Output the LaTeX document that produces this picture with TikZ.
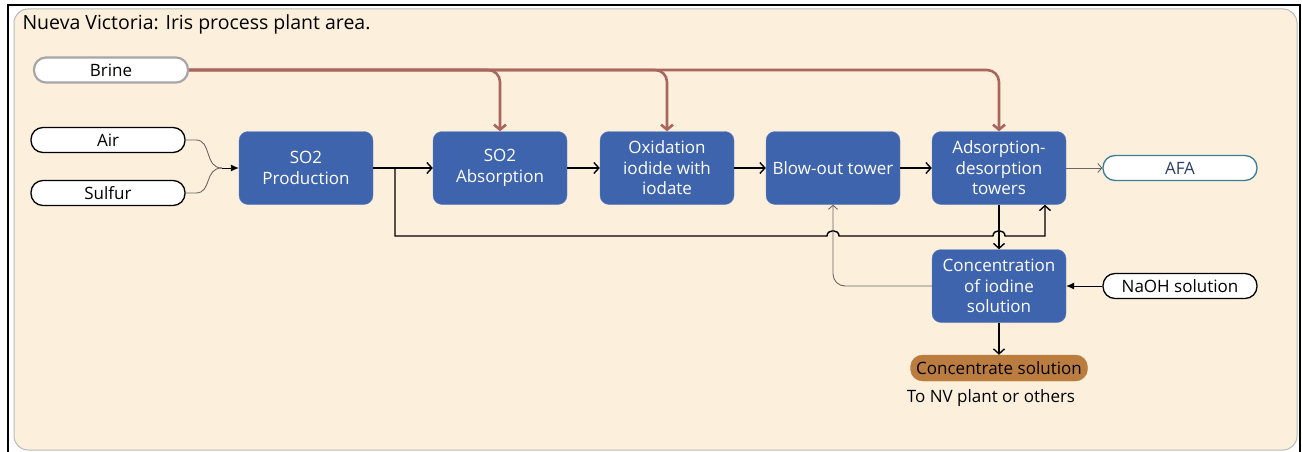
\documentclass[tikz,border=0pt]{standalone}
\usepackage{fontspec}
\setmainfont{Open Sans}
\usetikzlibrary{arrows.meta}

\definecolor{plantbg}{HTML}{FCF0DC}
\definecolor{unitblue}{HTML}{3F64AE}
\definecolor{brinered}{HTML}{A9665F}
\definecolor{brinegrey}{HTML}{A6A6A6}
\definecolor{afaedge}{HTML}{3D7A96}
\definecolor{afatext}{HTML}{2B3E6B}
\definecolor{concfill}{HTML}{BB7D3F}
\definecolor{greyline}{HTML}{6E6660}

\tikzset{
  unit/.style={rectangle, rounded corners=9pt, fill=unitblue, draw=unitblue!80!white,
    text=white, minimum width=134pt, minimum height=73pt, inner sep=2pt,
    align=center, font=\fontsize{17}{20.5}\selectfont},
  feed/.style={rectangle, rounded corners=12pt, draw=black, line width=1.3pt, fill=white,
    minimum width=154pt, minimum height=25pt, inner sep=0pt, font=\fontsize{17}{19}\selectfont},
  product/.style={rectangle, rounded corners=12pt, fill=concfill, draw=concfill,
    minimum width=177pt, minimum height=26pt, inner sep=0pt, font=\fontsize{17}{19}\selectfont},
  flow/.style={line width=1.4pt, -{Straight Barb[length=5pt,width=11pt]}},
  brineflow/.style={brinered, line width=2.6pt, rounded corners=12pt,
    -{Straight Barb[length=5pt,width=12pt]}},
  feedline/.style={greyline, line width=0.9pt},
  feedarrow/.style={line width=0.9pt, -{Latex[length=8pt,width=7pt]}},
  thinflow/.style={greyline, line width=0.9pt, rounded corners=12pt,
    -{Straight Barb[length=4pt,width=9pt]}}
}

\begin{document}
\begin{tikzpicture}[x=1pt, y=-1pt]
  \useasboundingbox (0,0) rectangle (1302,452);

  % plant area frame
  \draw[line width=1.2pt] (8,452) -- (8,5) -- (1300,5) -- (1300,452);
  \draw[fill=plantbg, draw=gray!55, line width=1pt, rounded corners=14pt] (14,9) rectangle (1297,450);
  \node[anchor=west, font=\fontsize{19.5}{22}\selectfont] (title) at (19,24) {Nueva Victoria: Iris process plant area.};

  % feeds
  \node[feed, draw=brinegrey, line width=2.2pt] (brine) at (111,70) {Brine};
  \node[feed] (air) at (108,140) {Air};
  \node[feed] (sulfur) at (108,193) {Sulfur};

  % process units
  \node[unit] (prod) at (306,168) {SO2\\Production};
  \node[unit] (absorb) at (500,168) {SO2\\Absorption};
  \node[unit] (oxid) at (667,168) {Oxidation\\iodide with\\iodate};
  \node[unit] (blowout) at (833,168) {Blow-out tower};
  \node[unit] (adsorb) at (999,168) {Adsorption-\\desorption\\towers};
  \node[unit] (conc) at (999,286) {Concentration\\of iodine\\solution};

  % outputs
  \node[feed, draw=afaedge, text=afatext] (afa) at (1180,168) {AFA};
  \node[feed] (naoh) at (1180,286) {NaOH solution};
  \node[product] (concsol) at (999,368) {Concentrate solution};
  \node[font=\fontsize{17}{19}\selectfont] (dest) at (991,398) {To NV plant or others};

  % brine header
  \draw[brineflow] (brine.east) -| (absorb.north);
  \draw[brineflow] (brine.east) -| (oxid.north);
  \draw[brineflow] (brine.east) -| (adsorb.north);

  % air + sulfur into SO2 production
  \coordinate (mix) at (222,168);
  \draw[feedline] (air.east) -- (196,140) .. controls (212,140) and (204,168) .. (mix);
  \draw[feedline] (sulfur.east) -- (196,193) .. controls (212,193) and (204,168) .. (mix);
  \draw[feedarrow] (mix) -- (prod.west);

  % main line
  \draw[flow] (prod.east) -- (absorb.west);
  \draw[flow] (absorb.east) -- (oxid.west);
  \draw[flow] (oxid.east) -- (blowout.west);
  \draw[flow] (blowout.east) -- (adsorb.west);
  \draw[thinflow] (adsorb.east) -- (afa.west);

  % SO2 bypass to the towers, hopping over the crossings
  \coordinate (tap) at (395,168);
  \coordinate (bypassup) at (1045,236);
  \draw[flow] (tap) -- (395,236) -- (827,236)
    .. controls (827,229) and (839,229) .. (839,236) -- (993,236)
    .. controls (993,229) and (1005,229) .. (1005,236) -- (bypassup)
    -- (bypassup |- adsorb.south);

  % iodine concentration
  \draw[flow] (adsorb.south) -- (conc.north);
  \draw[thinflow] (conc.west) -| (blowout.south);
  \draw[feedarrow] (naoh.west) -- (conc.east);
  \draw[flow] (conc.south) -- (concsol.north);
\end{tikzpicture}
\end{document}
